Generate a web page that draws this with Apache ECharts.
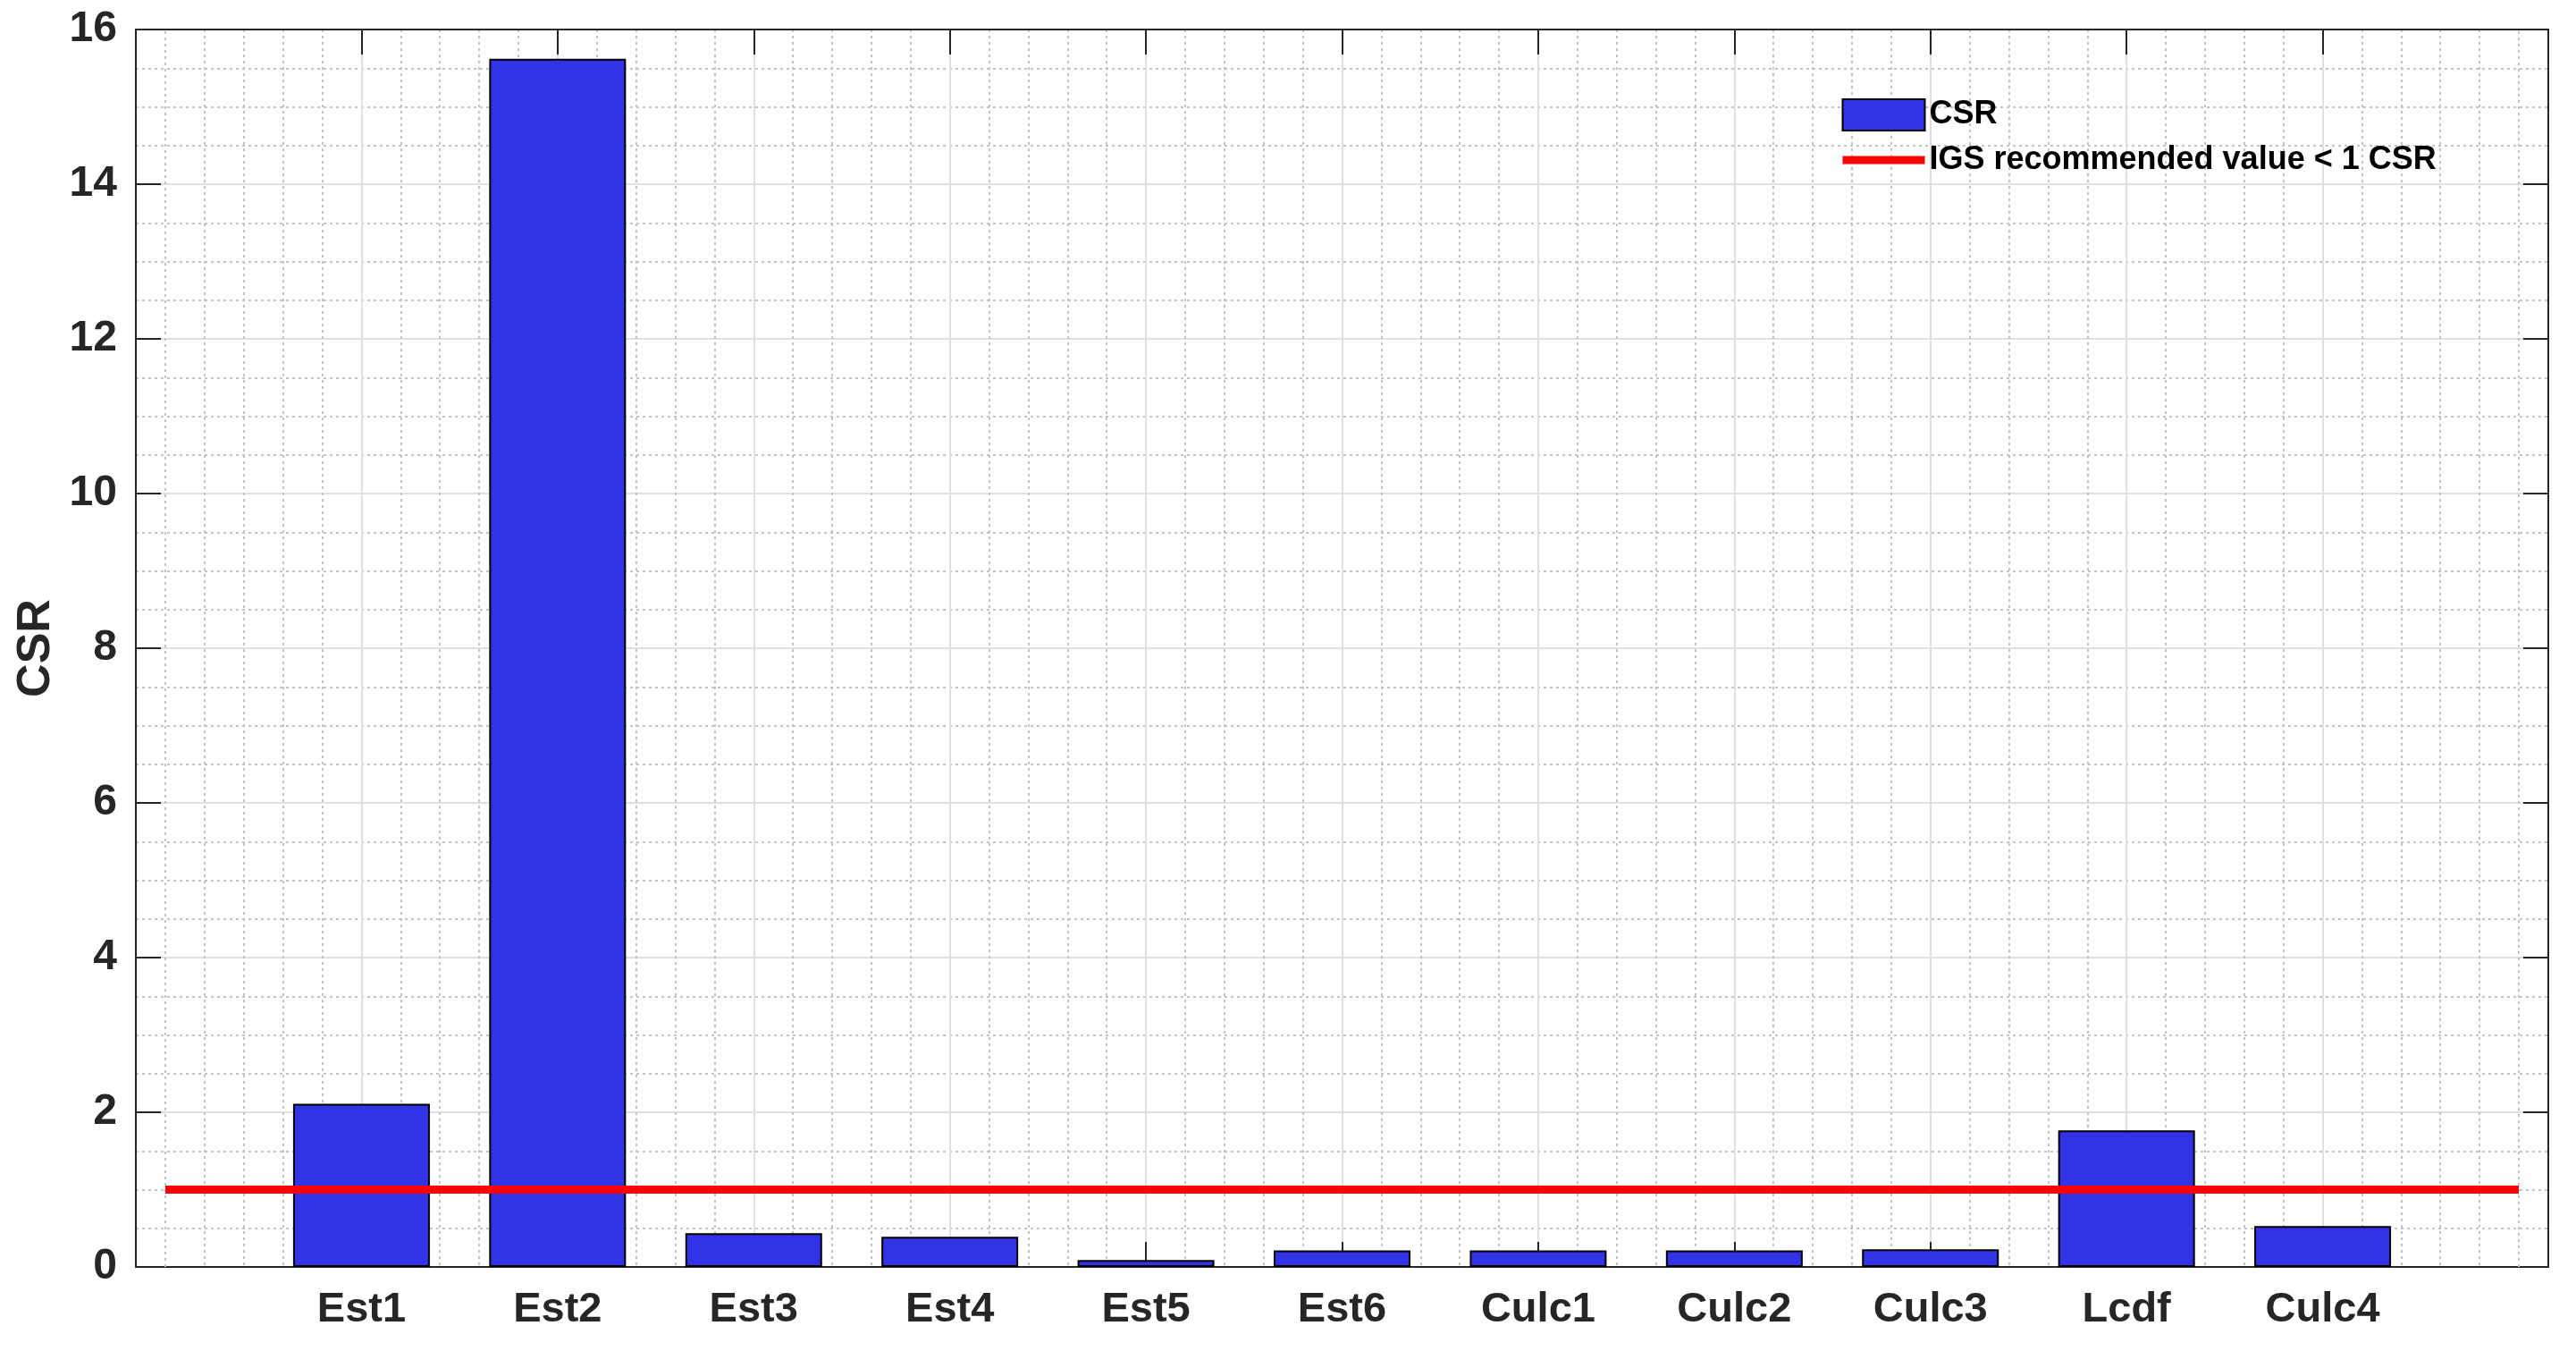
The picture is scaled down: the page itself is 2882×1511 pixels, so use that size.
<!DOCTYPE html>
<html><head><meta charset="utf-8">
<script src="https://cdn.jsdelivr.net/npm/echarts@6/dist/echarts.min.js"></script>
<style>html,body{margin:0;padding:0;background:#fff}#c{width:2882px;height:1511px}</style>
</head><body><div id="c"></div>
<script>
// ---- data ----
const categories = ['Est1','Est2','Est3','Est4','Est5','Est6','Culc1','Culc2','Culc3','Lcdf','Culc4'];
const csrValues  = [2.11, 15.62, 0.435, 0.39, 0.09, 0.215, 0.215, 0.215, 0.227, 1.765, 0.528];
const igsThreshold = 1;
const thresholdRange = [0, 12];
const seriesNames = ['CSR', 'IGS recommended value < 1 CSR'];
const yAxisTitle = 'CSR';

// ---- derived ----
const positions = categories.map((c, i) => i + 1);
const barData = positions.map((p, i) => [p, csrValues[i]]);
const lineData = thresholdRange.map(x => [x, igsThreshold]);

const FONT = '"Liberation Sans", Arial, Helvetica, sans-serif';
const TXT = '#262626';
const majorGrid = {show: true, lineStyle: {color: '#e0e0e0', width: 2}};
const minorGrid = {show: true, lineStyle: {color: '#c4c4c4', width: 2, type: [3, 4]}};
const frameLine = {show: true, onZero: false, lineStyle: {color: TXT, width: 2}};
const tickIn = {show: true, inside: true, length: 28, lineStyle: {color: TXT, width: 2}};

const chart = echarts.init(document.getElementById('c'), null, {renderer: 'canvas'});
chart.setOption({
  backgroundColor: '#ffffff',
  animation: false,
  textStyle: {fontFamily: FONT},
  grid: [
    {left: 152, right: 31, top: 33, bottom: 94},
    {left: 185, right: 64, top: 33, bottom: 94}
  ],
  xAxis: [
    {gridIndex: 0, type: 'value', min: 0, max: 1, position: 'bottom', axisLine: frameLine,
     axisTick: {show: false}, axisLabel: {show: false}, splitLine: {show: false}},
    {gridIndex: 0, type: 'value', min: 0, max: 1, position: 'top', axisLine: frameLine,
     axisTick: {show: false}, axisLabel: {show: false}, splitLine: {show: false}},
    {gridIndex: 1, type: 'value', min: 0, max: 12, interval: 1, position: 'bottom',
     axisLine: {show: false, onZero: false},
     axisTick: Object.assign({customValues: positions}, tickIn),
     axisLabel: {customValues: positions, formatter: v => categories[v - 1] || '',
       fontSize: 47, fontWeight: 'bold', color: TXT, fontFamily: FONT, margin: 25},
     splitLine: majorGrid,
     minorTick: {show: false, splitNumber: 5},
     minorSplitLine: minorGrid},
    {gridIndex: 1, type: 'value', min: 0, max: 12, interval: 1, position: 'top',
     axisLine: {show: false, onZero: false},
     axisTick: Object.assign({customValues: positions}, tickIn),
     axisLabel: {show: false}, splitLine: {show: false}}
  ],
  yAxis: [
    {gridIndex: 0, type: 'value', min: 0, max: 16, interval: 2, position: 'left',
     name: yAxisTitle, nameLocation: 'middle', nameGap: 84,
     nameTextStyle: {fontSize: 52, fontWeight: 'bold', color: TXT, fontFamily: FONT},
     axisLine: frameLine, axisTick: tickIn,
     axisLabel: {fontSize: 48, fontWeight: 'bold', color: TXT, fontFamily: FONT, margin: 21},
     splitLine: majorGrid,
     minorTick: {show: false, splitNumber: 4},
     minorSplitLine: minorGrid},
    {gridIndex: 0, type: 'value', min: 0, max: 16, interval: 2, position: 'right',
     axisLine: frameLine, axisTick: tickIn, axisLabel: {show: false}, splitLine: {show: false}},
    {gridIndex: 1, type: 'value', min: 0, max: 16, interval: 2, show: false}
  ],
  legend: {
    orient: 'vertical', left: 2057, top: 110, padding: 0,
    itemWidth: 92, itemHeight: 35, itemGap: 14,
    textStyle: {fontSize: 36, fontWeight: 'bold', color: '#000', fontFamily: FONT},
    data: [
      {name: seriesNames[0], icon: 'rect', itemStyle: {borderColor: '#000', borderWidth: 2}},
      {name: seriesNames[1], lineStyle: {width: 9}, itemStyle: {opacity: 0}}
    ]
  },
  series: [
    {type: 'bar', name: seriesNames[0], xAxisIndex: 2, yAxisIndex: 2, data: barData,
     barWidth: 153, z: 2,
     itemStyle: {color: '#3333E6', borderColor: '#000', borderWidth: 2},
     markLine: {silent: true, symbol: 'none', label: {show: false},
       lineStyle: {color: '#c4c4c4', width: 2, type: [3, 4]},
       data: thresholdRange.map(x => ({xAxis: x}))}},
    {type: 'line', name: seriesNames[1], xAxisIndex: 2, yAxisIndex: 2, data: lineData,
     symbol: 'none', z: 5,
     lineStyle: {color: '#FF0000', width: 9}, itemStyle: {color: '#FF0000'}}
  ]
});
</script></body></html>
